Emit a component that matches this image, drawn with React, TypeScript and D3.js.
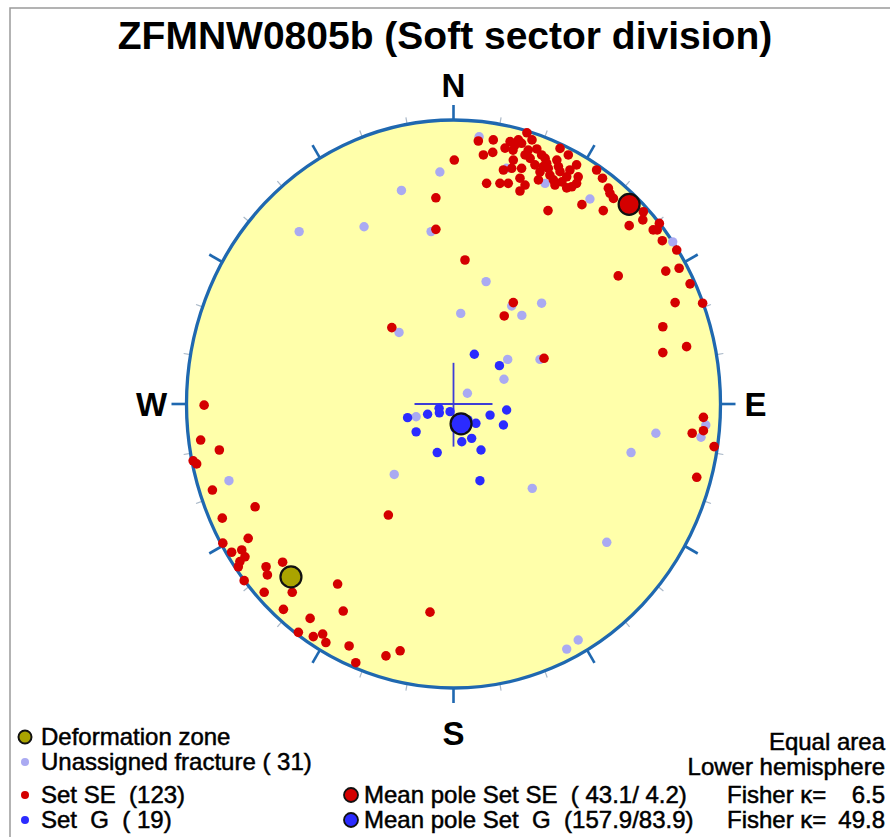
import React, { useEffect, useRef } from 'react';
import * as d3 from 'd3';

// projected pole positions (equal area, lower hemisphere), in units of the net radius: [east, north]
const setSE: [number, number][] = [
  [0.093, 0.926], [0.149, 0.93], [0.275, 0.955], [0.212, 0.924], [0.243, 0.93], [0.255, 0.918],
  [0.23, 0.912], [0.112, 0.877], [0.147, 0.886], [0.28, 0.894], [0.312, 0.898], [0.287, 0.865],
  [0.33, 0.877], [0.343, 0.865], [0.349, 0.848], [0.336, 0.836], [0.355, 0.83], [0.399, 0.9],
  [0.43, 0.877], [0.387, 0.859], [0.393, 0.836], [0.399, 0.818], [0.461, 0.842], [0.224, 0.859],
  [0.187, 0.824], [0.218, 0.83], [0.255, 0.83], [0.249, 0.795], [0.318, 0.789], [0.374, 0.789],
  [0.38, 0.771], [0.424, 0.8], [0.467, 0.8], [0.461, 0.777], [0.443, 0.765], [0.424, 0.761],
  [0.124, 0.777], [0.174, 0.777], [0.205, 0.777], [0.249, 0.75], [0.536, 0.824], [0.558, 0.795],
  [0.58, 0.76], [0.586, 0.742], [0.599, 0.724], [0.481, 0.702], [0.354, 0.681], [0.561, 0.681],
  [0.711, 0.677], [0.709, 0.648], [0.658, 0.628], [0.748, 0.613], [0.763, 0.613], [0.771, 0.636],
  [0.782, 0.575], [0.836, 0.542], [0.845, 0.478], [0.795, 0.468], [0.617, 0.451], [0.886, 0.423],
  [0.83, 0.357], [0.933, 0.355], [0.784, 0.272], [0.873, 0.202], [0.784, 0.181], [0.003, 0.859],
  [-0.066, 0.726], [-0.066, 0.615], [0.043, 0.507], [0.224, 0.357], [0.19, 0.31], [-0.231, 0.269],
  [0.339, 0.161], [0.936, -0.047], [0.894, -0.103], [0.936, -0.094], [0.976, -0.15], [0.911, -0.258],
  [-0.934, -0.004], [-0.947, -0.127], [-0.877, -0.162], [-0.975, -0.2], [-0.962, -0.211], [-0.903, -0.303],
  [-0.743, -0.362], [-0.866, -0.402], [-0.769, -0.473], [-0.864, -0.49], [-0.831, -0.522], [-0.793, -0.514],
  [-0.781, -0.538], [-0.8, -0.555], [-0.806, -0.573], [-0.784, -0.622], [-0.702, -0.573], [-0.697, -0.602],
  [-0.64, -0.557], [-0.604, -0.663], [-0.709, -0.663], [-0.434, -0.634], [-0.637, -0.723], [-0.413, -0.729],
  [-0.537, -0.755], [-0.581, -0.804], [-0.525, -0.819], [-0.49, -0.81], [-0.478, -0.84], [-0.391, -0.852],
  [-0.366, -0.911], [-0.244, -0.391], [-0.088, -0.733], [-0.253, -0.887], [-0.2, -0.869], [0.223, 0.894],
  [0.268, 0.877], [0.305, 0.842], [0.324, 0.817], [0.361, 0.806], [0.406, 0.782], [0.268, 0.771],
  [0.193, 0.901], [0.294, 0.93], [0.436, 0.824],
];

const unassigned: [number, number][] = [
  [0.096, 0.941], [-0.051, 0.817], [-0.195, 0.752], [-0.084, 0.607], [0.122, 0.431], [0.33, 0.355],
  [0.027, 0.319], [0.256, 0.312], [0.218, 0.345], [-0.204, 0.252], [0.203, 0.157], [0.324, 0.157],
  [0.189, 0.087], [0.052, 0.038], [-0.14, -0.045], [-0.222, -0.248], [0.295, -0.297], [0.343, 0.777],
  [0.511, 0.722], [0.821, 0.571], [0.199, 0.83], [0.758, -0.103], [0.665, -0.171], [0.574, -0.487],
  [0.467, -0.831], [0.424, -0.863], [0.945, -0.074], [0.927, -0.117], [-0.841, -0.27], [-0.578, 0.607],
  [-0.335, 0.624],
];

const setG: [number, number][] = [
  [0.078, 0.175], [0.172, 0.135], [-0.172, -0.048], [-0.097, -0.036], [-0.054, -0.015], [-0.053, -0.031],
  [-0.013, -0.027], [0.084, -0.068], [0.137, -0.039], [0.199, -0.021], [0.187, -0.074], [-0.14, -0.098],
  [0.031, -0.133], [0.068, -0.121], [0.103, -0.162], [-0.061, -0.171], [0.099, -0.27], [0.006, -0.085],
  [0.054, -0.056],
];

// trend / plunge in degrees
const meanSE = { trend: 43.1, plunge: 4.2 };
const meanG = { trend: 157.9, plunge: 83.9 };
const deformationZone = { trend: 225, plunge: 15 };

const compassLabels = [
  { text: 'N', az: 0 },
  { text: 'E', az: 90 },
  { text: 'S', az: 180 },
  { text: 'W', az: 270 },
];

const leftLegend = ['Deformation zone', 'Unassigned fracture ( 31)', 'Set SE  (123)', 'Set  G  ( 19)'];
const meanLegend = ['Mean pole Set SE  ( 43.1/ 4.2)', 'Mean pole Set  G  (157.9/83.9)'];
const fisherValues = ['6.5', '49.8'];
const projectionNotes = ['Equal area', 'Lower hemisphere'];

const COL = {
  se: '#d40000',
  g: '#2b2bff',
  un: '#aaaaf2',
  dz: '#aaa400',
  net: '#1f68b0',
  fill: '#ffffaa',
};

const FONT = '"Liberation Sans", Arial, Helvetica, sans-serif';

const project = (trend: number, plunge: number): [number, number] => {
  const r = Math.SQRT2 * Math.sin(((90 - plunge) / 2) * Math.PI / 180);
  const t = trend * Math.PI / 180;
  return [r * Math.sin(t), r * Math.cos(t)];
};

const App: React.FC = () => {
  const ref = useRef<SVGSVGElement | null>(null);

  useEffect(() => {
    if (!ref.current) return;
    const svg = d3.select(ref.current);
    svg.selectAll('*').remove();

    const cx = 453.5, cy = 404, rx = 267, ry = 284;
    const x = d3.scaleLinear().domain([-1, 1]).range([cx - rx, cx + rx]);
    const y = d3.scaleLinear().domain([-1, 1]).range([cy + ry, cy - ry]);

    // frame
    svg.append('path')
      .attr('d', 'M 895 8 L 10 8 L 10 840')
      .attr('fill', 'none')
      .attr('stroke', '#9a9a9a')
      .attr('stroke-width', 1.5);

    // title
    svg.append('text')
      .attr('x', 445)
      .attr('y', 49)
      .attr('text-anchor', 'middle')
      .style('font-family', FONT)
      .style('font-weight', 'bold')
      .style('font-size', '39px')
      .text('ZFMNW0805b (Soft sector division)');

    // net
    svg.append('ellipse')
      .attr('cx', cx).attr('cy', cy).attr('rx', rx).attr('ry', ry)
      .attr('fill', COL.fill);

    // ticks every 10 degrees, long ones every 30
    const ticks = d3.range(0, 360, 10);
    svg.append('g').selectAll('line')
      .data(ticks)
      .enter().append('line')
      .each(function (a) {
        const t = a * Math.PI / 180;
        const px = x(Math.sin(t)), py = y(Math.cos(t));
        const major = a % 30 === 0;
        const len = major ? 15 : 7;
        d3.select(this)
          .attr('x1', px).attr('y1', py)
          .attr('x2', px + len * Math.sin(t)).attr('y2', py - len * Math.cos(t))
          .attr('stroke', major ? COL.net : '#a9b8c8')
          .attr('stroke-width', major ? 2.6 : 1.2);
      });

    svg.append('ellipse')
      .attr('cx', cx).attr('cy', cy).attr('rx', rx).attr('ry', ry)
      .attr('fill', 'none')
      .attr('stroke', COL.net)
      .attr('stroke-width', 3.3);

    // compass letters
    svg.append('g').selectAll('text')
      .data(compassLabels)
      .enter().append('text')
      .attr('x', (d) => {
        const t = d.az * Math.PI / 180;
        return x(Math.sin(t)) + Math.sin(t) * 35;
      })
      .attr('y', (d) => {
        const t = d.az * Math.PI / 180;
        const c = Math.cos(t);
        return y(c) - c * (c > 0 ? 35 : 45) + 12;
      })
      .attr('text-anchor', 'middle')
      .style('font-family', FONT)
      .style('font-weight', 'bold')
      .style('font-size', '33px')
      .text((d) => d.text);

    // centre cross
    svg.append('line')
      .attr('x1', x(-0.146)).attr('x2', x(0.146)).attr('y1', y(0)).attr('y2', y(0))
      .attr('stroke', '#3d3dd6').attr('stroke-width', 1.8);
    svg.append('line')
      .attr('x1', x(0)).attr('x2', x(0)).attr('y1', y(0.145)).attr('y2', y(-0.15))
      .attr('stroke', '#3d3dd6').attr('stroke-width', 1.8);

    const dots = (data: [number, number][], color: string, r: number) => {
      svg.append('g').selectAll('circle')
        .data(data)
        .enter().append('circle')
        .attr('cx', (d) => x(d[0]))
        .attr('cy', (d) => y(d[1]))
        .attr('r', r)
        .attr('fill', color);
    };
    dots(unassigned, COL.un, 4.7);
    dots(setSE, COL.se, 4.8);
    dots(setG, COL.g, 4.7);

    // mean poles and deformation zone
    const bigDots = [
      { p: deformationZone, color: COL.dz },
      { p: meanSE, color: COL.se },
      { p: meanG, color: COL.g },
    ];
    svg.append('g').selectAll('circle')
      .data(bigDots)
      .enter().append('circle')
      .attr('cx', (d) => x(project(d.p.trend, d.p.plunge)[0]))
      .attr('cy', (d) => y(project(d.p.trend, d.p.plunge)[1]))
      .attr('r', 10.5)
      .attr('fill', (d) => d.color)
      .attr('stroke', '#111')
      .attr('stroke-width', 2.2);

    // left legend
    const legendColors = [COL.dz, COL.un, COL.se, COL.g];
    const legendY = [745, 770, 803, 828];
    const lg = svg.append('g');
    leftLegend.forEach((label, i) => {
      lg.append('circle')
        .attr('cx', 25)
        .attr('cy', legendY[i] - 8)
        .attr('r', i === 0 ? 6.5 : 4)
        .attr('fill', legendColors[i])
        .attr('stroke', i === 0 ? '#111' : 'none')
        .attr('stroke-width', 2);
      lg.append('text')
        .attr('x', 41)
        .attr('y', legendY[i])
        .style('font-family', FONT)
        .style('font-size', '24px')
        .style('white-space', 'pre')
        .attr('stroke', '#000').attr('stroke-width', 0.5)
        .text(label);
    });

    // mean pole legend
    const meanColors = [COL.se, COL.g];
    meanLegend.forEach((label, i) => {
      const yy = legendY[2 + i];
      lg.append('circle')
        .attr('cx', 351)
        .attr('cy', yy - 8)
        .attr('r', 7)
        .attr('fill', meanColors[i])
        .attr('stroke', '#111')
        .attr('stroke-width', 1.8);
      lg.append('text')
        .attr('x', 364)
        .attr('y', yy)
        .style('font-family', FONT)
        .style('font-size', '24px')
        .style('white-space', 'pre')
        .attr('stroke', '#000').attr('stroke-width', 0.5)
        .text(label);
      lg.append('text')
        .attr('x', 727)
        .attr('y', yy)
        .style('font-family', FONT)
        .style('font-size', '24px')
        .attr('stroke', '#000').attr('stroke-width', 0.5)
        .text('Fisher \u03ba=');
      lg.append('text')
        .attr('x', 885)
        .attr('y', yy)
        .attr('text-anchor', 'end')
        .style('font-family', FONT)
        .style('font-size', '24px')
        .attr('stroke', '#000').attr('stroke-width', 0.5)
        .text(fisherValues[i]);
    });

    projectionNotes.forEach((note, i) => {
      lg.append('text')
        .attr('x', 885)
        .attr('y', legendY[i] + 5)
        .attr('text-anchor', 'end')
        .style('font-family', FONT)
        .style('font-size', '24px')
        .attr('stroke', '#000').attr('stroke-width', 0.5)
        .text(note);
    });
  }, []);

  return (
    <svg
      ref={ref}
      width={890}
      height={837}
      style={{ position: 'absolute', left: 0, top: 0, background: '#fff' }}
    />
  );
};

export default App;
